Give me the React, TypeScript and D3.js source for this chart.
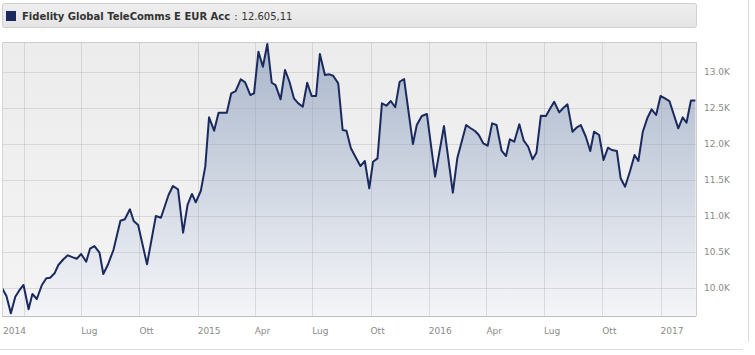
import React from "react";
import * as d3 from "d3";

const seriesName = "Fidelity Global TeleComms E EUR Acc";

const dates = [
  "2014-02-26","2014-03-05","2014-03-12","2014-03-19","2014-03-25","2014-04-01","2014-04-09","2014-04-15","2014-04-22","2014-04-30",
  "2014-05-07","2014-05-13","2014-05-20","2014-05-26","2014-06-03","2014-06-10","2014-06-18","2014-06-24","2014-07-01","2014-07-09",
  "2014-07-15","2014-07-22","2014-07-30","2014-08-05","2014-08-12","2014-08-21","2014-09-01","2014-09-08","2014-09-16","2014-09-22",
  "2014-09-29","2014-10-13","2014-10-27","2014-11-04","2014-11-16","2014-11-23","2014-12-01","2014-12-09","2014-12-16","2014-12-23",
  "2014-12-29","2015-01-06","2015-01-13","2015-01-19","2015-01-27","2015-02-03","2015-02-16","2015-02-23","2015-03-02","2015-03-10",
  "2015-03-17","2015-03-25","2015-03-31","2015-04-07","2015-04-14","2015-04-21","2015-04-28","2015-05-04","2015-05-12","2015-05-19",
  "2015-05-26","2015-06-02","2015-06-09","2015-06-16","2015-06-23","2015-06-30","2015-07-07","2015-07-13","2015-07-21","2015-07-28",
  "2015-08-03","2015-08-11","2015-08-18","2015-08-24","2015-08-31","2015-09-09","2015-09-15","2015-09-22","2015-09-29","2015-10-05",
  "2015-10-12","2015-10-19","2015-10-26","2015-11-02","2015-11-09","2015-11-16","2015-11-23","2015-12-07","2015-12-13","2015-12-21",
  "2015-12-29","2016-01-11","2016-01-25","2016-02-08","2016-02-15","2016-02-29","2016-03-06","2016-03-14","2016-03-20","2016-03-27",
  "2016-04-03","2016-04-10","2016-04-17","2016-04-25","2016-05-02","2016-05-08","2016-05-15","2016-05-23","2016-05-30","2016-06-06",
  "2016-06-13","2016-06-19","2016-06-26","2016-07-04","2016-07-10","2016-07-17","2016-07-25","2016-07-31","2016-08-07","2016-08-15",
  "2016-08-22","2016-08-28","2016-09-05","2016-09-12","2016-09-18","2016-09-26","2016-10-03","2016-10-10","2016-10-16","2016-10-24",
  "2016-10-30","2016-11-06","2016-11-14","2016-11-21","2016-11-27","2016-12-04","2016-12-11","2016-12-18","2016-12-25","2017-01-01",
  "2017-01-08","2017-01-15","2017-01-29","2017-02-05","2017-02-11","2017-02-18","2017-02-25",
];

const values = [
  10000,9889,9649,9879,9962,10042,9704,9917,9847,10042,
  10135,10143,10204,10319,10399,10454,10426,10407,10472,10365,
  10546,10583,10490,10194,10319,10528,10935,10954,11093,10931,
  10875,10329,11000,10976,11292,11417,11371,10768,11153,11306,
  11190,11351,11685,12371,12185,12435,12435,12704,12736,12899,
  12857,12681,12704,13282,13074,13389,12851,12819,12621,13028,
  12865,12635,12565,12518,12851,12667,12667,13250,12958,12968,
  12949,12843,12194,12185,11940,11792,11694,11764,11385,11754,
  11801,12565,12532,12597,12510,12865,12903,12000,12264,12389,
  12417,11546,12250,11324,11801,12264,12226,12181,12125,12010,
  11976,12287,12264,11907,11833,12065,12032,12274,12046,11962,
  11787,11879,12393,12389,12482,12587,12440,12496,12551,12171,
  12232,12264,12101,11903,12171,12125,11778,11949,11917,11903,
  11524,11407,11629,11847,11764,12171,12357,12482,12403,12667,
  12635,12597,12218,12371,12296,12605,12605.11,
];

const domainDates = ["2014-02-26", "2017-02-26"];
const yDomain = [9611, 13417];
const yTicks = [10000, 10500, 11000, 11500, 12000, 12500, 13000];

const xTickDates = [
  "2014-02-26","2014-04-01","2014-07-01","2014-10-01","2015-01-01","2015-04-01","2015-07-01",
  "2015-10-01","2016-01-01","2016-04-01","2016-07-01","2016-10-01","2017-01-01",
];
const xTickLabels = ["2014","","Lug","Ott","2015","Apr","Lug","Ott","2016","Apr","Lug","Ott","2017"];

const FONT = "'DejaVu Sans', Verdana, sans-serif";
const LINE = "#1b2a5e";

export default function App() {
  const parse = d3.timeParse("%Y-%m-%d");
  const data = dates.map((d, i) => ({ date: parse(d) as Date, value: values[i] }));

  const left = 2, right = 696, top = 42, bottom = 316;
  const x = d3.scaleTime()
    .domain(domainDates.map((d) => parse(d) as Date))
    .range([left, right]);
  const y = d3.scaleLinear().domain(yDomain).range([bottom, top]);

  const line = d3.line<{ date: Date; value: number }>()
    .x((d) => x(d.date))
    .y((d) => y(d.value));
  const area = d3.area<{ date: Date; value: number }>()
    .x((d) => x(d.date))
    .y0(bottom)
    .y1((d) => y(d.value));

  const it = d3.formatLocale({ decimal: ",", thousands: ".", grouping: [3], currency: ["€", ""] });
  const latest = it.format(",.2f")(values[values.length - 1]);
  const fmtK = (v: number) => d3.format(".1f")(v / 1000) + "K";

  const xStart = parse(domainDates[0]) as Date;

  return (
    <svg
      width={755}
      height={355}
      style={{ position: "absolute", left: 0, top: 0, background: "#fff" }}
      fontFamily={FONT}
    >
      <defs>
        <linearGradient id="areaGrad" x1="0" y1={top} x2="0" y2={bottom} gradientUnits="userSpaceOnUse">
          <stop offset="0" stopColor="#a9b6cb" />
          <stop offset="1" stopColor="#f4f5f8" />
        </linearGradient>
        <linearGradient id="bgGrad" x1="0" y1="0" x2="0" y2="1">
          <stop offset="0" stopColor="#ececec" />
          <stop offset="1" stopColor="#f4f4f4" />
        </linearGradient>
        <linearGradient id="legGrad" x1="0" y1="0" x2="0" y2="1">
          <stop offset="0" stopColor="#efefef" />
          <stop offset="1" stopColor="#e4e4e4" />
        </linearGradient>
        <clipPath id="plotClip">
          <rect x={left} y={top} width={right - left} height={bottom - top} />
        </clipPath>
      </defs>

      {/* outer frame */}
      <line x1={748.5} y1={0} x2={748.5} y2={342} stroke="#dcdcdc" />
      <line x1={0} y1={349.5} x2={743} y2={349.5} stroke="#dcdcdc" />

      {/* legend bar */}
      <rect x={2.5} y={3.5} width={694} height={24} rx={2} fill="url(#legGrad)" stroke="#cfcfcf" />
      <rect x={6} y={11} width={10} height={10} fill={LINE} />
      <text x={22} y={20} fontSize={10} fill="#333">
        <tspan fontWeight="bold">{seriesName}</tspan>
        <tspan dx={4}>:</tspan>
        <tspan dx={4}>{latest}</tspan>
      </text>

      {/* plot background */}
      <rect x={left} y={top} width={right - left} height={bottom - top} fill="url(#bgGrad)" />

      <g clipPath="url(#plotClip)">
        <path d={area(data) || ""} fill="url(#areaGrad)" />
        {yTicks.map((t) => (
          <line key={t} x1={left} x2={right} y1={Math.round(y(t)) + 0.5} y2={Math.round(y(t)) + 0.5}
            stroke="#9a9a9a" strokeOpacity={0.28} />
        ))}
        {xTickDates.map((d, i) => {
          const dt = parse(d) as Date;
          if (+dt === +xStart) return null;
          const xx = Math.round(x(dt)) + 0.5;
          return <line key={i} x1={xx} x2={xx} y1={top} y2={bottom} stroke="#9a9a9a" strokeOpacity={0.28} />;
        })}
        <path d={line(data) || ""} fill="none" stroke={LINE} strokeWidth={2} strokeLinejoin="round" />
      </g>

      {/* plot borders */}
      <line x1={left} x2={right} y1={top + 0.5} y2={top + 0.5} stroke="#cccccc" />
      <line x1={left} x2={right} y1={bottom + 0.5} y2={bottom + 0.5} stroke="#bdbdbd" />
      <line x1={right + 0.5} x2={right + 0.5} y1={top} y2={bottom} stroke="#cccccc" />
      <line x1={left + 0.5} x2={left + 0.5} y1={top} y2={bottom} stroke="#d6d6d6" />

      {/* y labels */}
      {yTicks.map((t) => (
        <text key={t} x={704} y={y(t)} dy="0.35em" fontSize={9} fill="#8a8a8a">{fmtK(t)}</text>
      ))}

      {/* x labels */}
      {xTickDates.map((d, i) =>
        xTickLabels[i] ? (
          <text key={i} x={+(parse(d) as Date) === +xStart ? 3 : x(parse(d) as Date)} y={334} fontSize={9} fill="#8a8a8a">
            {xTickLabels[i]}
          </text>
        ) : null
      )}
    </svg>
  );
}
